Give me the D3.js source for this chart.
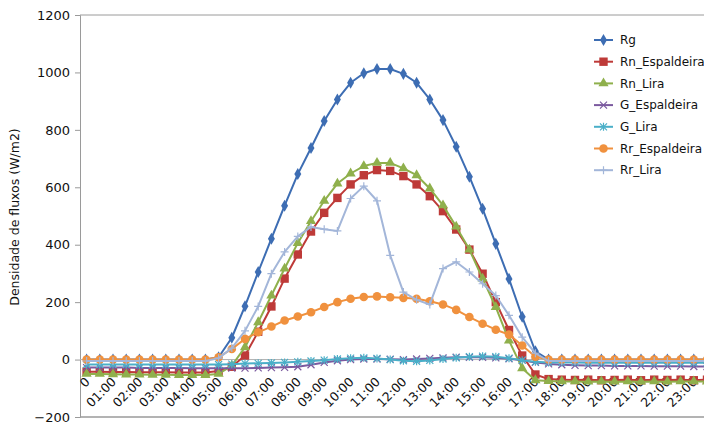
<!DOCTYPE html>
<html>
<head>
<meta charset="utf-8">
<script src="https://cdn.jsdelivr.net/npm/d3@7"></script>
<style>
  html, body { margin: 0; padding: 0; background: #fff; }
  svg { display: block; font-family: "DejaVu Sans", sans-serif; }
</style>
</head>
<body>
<svg id="chart" width="704" height="424"></svg>
<script>
// ---------- DATA ----------
const categories = [
  "00:00","00:30","01:00","01:30","02:00","02:30","03:00","03:30","04:00","04:30","05:00","05:30",
  "06:00","06:30","07:00","07:30","08:00","08:30","09:00","09:30","10:00","10:30","11:00","11:30",
  "12:00","12:30","13:00","13:30","14:00","14:30","15:00","15:30","16:00","16:30","17:00","17:30",
  "18:00","18:30","19:00","19:30","20:00","20:30","21:00","21:30","22:00","22:30","23:00","23:30"
];
const tickLabels = ["0","01:00","02:00","03:00","04:00","05:00","06:00","07:00","08:00","09:00","10:00","11:00",
  "12:00","13:00","14:00","15:00","16:00","17:00","18:00","19:00","20:00","21:00","22:00","23:00"];
const yTicks = [-200, 0, 200, 400, 600, 800, 1000, 1200];

const Rg = [0,0,0,0,0,0,0,0,0,0,8,76,186,305,421,536,646,737,831,906,964,997,1012,1012,
  995,964,906,834,741,637,525,403,281,149,29,0,0,0,0,0,0,0,0,0,0,0,0,0];
const Rn_Espaldeira = [-42,-42,-43,-43,-44,-44,-44,-45,-45,-45,-40,-25,14,97,185,282,366,446,511,563,610,642,660,657,
  639,610,569,517,453,383,299,200,103,14,-52,-68,-70,-71,-70,-72,-71,-70,-72,-70,-71,-70,-72,-70];
const Rn_Lira = [-50,-50,-51,-52,-52,-53,-53,-54,-54,-54,-50,-21,43,130,223,317,406,482,553,613,648,674,685,685,
  666,642,596,537,463,383,282,183,66,-30,-72,-75,-76,-76,-77,-76,-77,-76,-77,-76,-77,-76,-76,-77];
const G_Espaldeira = [-28,-28,-28,-28,-29,-29,-29,-29,-30,-30,-30,-30,-30,-29,-28,-27,-25,-18,-10,-4,0,2,2,1,
  0,2,4,6,8,8,8,6,3,-2,-10,-15,-18,-20,-21,-21,-22,-22,-22,-23,-23,-23,-24,-24];
const G_Lira = [-17,-17,-17,-17,-17,-17,-17,-17,-17,-17,-17,-16,-14,-13,-12,-10,-8,-5,-2,2,5,6,4,0,
  -4,-6,-3,2,6,10,12,10,5,-2,-8,-10,-10,-10,-11,-11,-11,-11,-11,-11,-11,-11,-11,-11];
const Rr_Espaldeira = [0,0,0,0,0,0,0,0,0,0,8,37,72,95,115,136,150,165,183,200,212,218,220,217,
  215,212,203,192,173,148,125,104,87,49,10,0,0,0,0,0,0,0,0,0,0,0,0,0];
const Rr_Lira = [-5,-5,-5,-5,-5,-5,-5,-5,-5,-5,5,40,100,185,299,375,429,462,454,448,561,604,553,363,
  235,208,192,317,340,305,264,223,154,78,22,-5,-5,-5,-5,-5,-5,-5,-5,-5,-5,-5,-5,-5];

const seriesNames = ["Rg","Rn_Espaldeira","Rn_Lira","G_Espaldeira","G_Lira","Rr_Espaldeira","Rr_Lira"];
const seriesValues = [Rg, Rn_Espaldeira, Rn_Lira, G_Espaldeira, G_Lira, Rr_Espaldeira, Rr_Lira];
const yTitle = "Densidade de fluxos (W/m2)";

// ---------- STYLE ----------
const colors = ["#3d6db3","#be3a38","#8fb04c","#7b5a9f","#4aafc8","#f0913e","#a3b6d9"];
const markers = ["diamond","square","triangle","x","asterisk","circle","plus"];

const svg = d3.select("#chart");
const M = { left: 80, top: 15, bottom: 417, right: 713.6 };

const x = d3.scaleBand().domain(categories).range([M.left, M.right]);
const xc = c => x(c) + x.bandwidth() / 2;
const y = d3.scaleLinear().domain([-200, 1200]).range([M.bottom, M.top]);

// frame
svg.append("line").attr("x1", M.left).attr("x2", 704).attr("y1", M.top).attr("y2", M.top)
  .attr("stroke", "#9a9a9a").attr("stroke-width", 1);
svg.append("line").attr("x1", M.left).attr("x2", 704).attr("y1", M.bottom).attr("y2", M.bottom)
  .attr("stroke", "#9a9a9a").attr("stroke-width", 1.5);

// y axis
const yAxis = d3.axisLeft(y).tickValues(yTicks).tickSize(5).tickPadding(5).tickFormat(d3.format("d"));
const gy = svg.append("g").attr("transform", `translate(${M.left},0)`).call(yAxis);
gy.select(".domain").attr("stroke", "#9a9a9a");
gy.selectAll(".tick line").attr("stroke", "#9a9a9a");
gy.selectAll("text").attr("font-size", 13).attr("fill", "#111").attr("font-family", "DejaVu Sans");

// zero line (category axis)
svg.append("line").attr("x1", M.left).attr("x2", 704).attr("y1", y(0)).attr("y2", y(0))
  .attr("stroke", "#b0b0b0").attr("stroke-width", 1);

// x axis labels
const xAxis = d3.axisBottom(x)
  .tickValues(categories.filter((c, i) => i % 2 === 0))
  .tickSize(0)
  .tickFormat((c) => tickLabels[categories.indexOf(c) / 2]);
const gx = svg.append("g").attr("transform", `translate(0,${y(0)})`).call(xAxis);
gx.select(".domain").remove();
gx.selectAll(".tick text")
  .attr("font-size", 12.5).attr("fill", "#111").attr("font-family", "DejaVu Sans")
  .attr("text-anchor", "end")
  .attr("x", 0).attr("y", 0).attr("dy", 0)
  .attr("transform", "translate(4,23) rotate(-45)");

// y title
svg.append("text")
  .attr("transform", `translate(19,${(M.top + M.bottom) / 2 + 1}) rotate(-90)`)
  .attr("text-anchor", "middle").attr("font-size", 12.5).attr("fill", "#111")
  .text(yTitle);

// markers
function drawMarker(g, type, color, cx, cy) {
  switch (type) {
    case "diamond":
      g.append("path").attr("d", d3.symbol(d3.symbolDiamond, 42)())
        .attr("transform", `translate(${cx},${cy})`).attr("fill", color); break;
    case "square":
      g.append("rect").attr("x", cx - 4.2).attr("y", cy - 4.2).attr("width", 8.4).attr("height", 8.4).attr("fill", color); break;
    case "triangle":
      g.append("path").attr("d", d3.symbol(d3.symbolTriangle, 45)())
        .attr("transform", `translate(${cx},${cy})`).attr("fill", color); break;
    case "circle":
      g.append("circle").attr("cx", cx).attr("cy", cy).attr("r", 4.3).attr("fill", color); break;
    case "x":
      g.append("path").attr("d", `M${cx-3.5},${cy-3.5}L${cx+3.5},${cy+3.5}M${cx-3.5},${cy+3.5}L${cx+3.5},${cy-3.5}`)
        .attr("stroke", color).attr("stroke-width", 1.2); break;
    case "asterisk":
      g.append("path").attr("d", `M${cx-3.5},${cy-3.5}L${cx+3.5},${cy+3.5}M${cx-3.5},${cy+3.5}L${cx+3.5},${cy-3.5}M${cx},${cy-4}L${cx},${cy+4}`)
        .attr("stroke", color).attr("stroke-width", 1.2); break;
    case "plus":
      g.append("path").attr("d", `M${cx-4},${cy}L${cx+4},${cy}M${cx},${cy-4}L${cx},${cy+4}`)
        .attr("stroke", color).attr("stroke-width", 1.2); break;
  }
}

const line = d3.line().x((d, i) => xc(categories[i])).y(d => y(d));
const plot = svg.append("g");
seriesValues.forEach((vals, k) => {
  const g = plot.append("g").attr("class", "series");
  g.append("path").datum(vals).attr("d", line).attr("fill", "none")
    .attr("stroke", colors[k]).attr("stroke-width", 2).attr("stroke-linejoin", "round");
  vals.forEach((v, i) => drawMarker(g, markers[k], colors[k], xc(categories[i]), y(v)));
});

// legend
const legY0 = 40, legDy = 21.7;
const leg = svg.append("g");
seriesNames.forEach((name, k) => {
  const ly = legY0 + k * legDy;
  const g = leg.append("g");
  g.append("line").attr("x1", 594).attr("x2", 613).attr("y1", ly).attr("y2", ly)
    .attr("stroke", colors[k]).attr("stroke-width", 2);
  drawMarker(g, markers[k], colors[k], 603.5, ly);
  g.append("text").attr("x", 620).attr("y", ly).attr("dy", "0.35em")
    .attr("font-size", 12).attr("fill", "#111").text(name);
});
</script>
</body>
</html>
